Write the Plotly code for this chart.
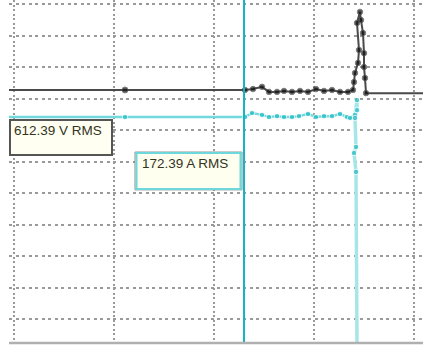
import plotly.graph_objects as go

# Time axis in grid divisions, amplitude in grid divisions
volt_t = [-0.05, 1.11, 2.31, 2.39, 2.48, 2.55, 2.63, 2.70, 2.78, 2.86, 2.94, 3.02,
          3.10, 3.18, 3.26, 3.34, 3.39, 3.40, 3.41, 3.44, 3.45, 3.43, 3.46, 3.47,
          3.49, 3.50, 3.50, 3.51, 3.52, 4.09]
volt_v = [7.27, 7.27, 7.27, 7.30, 7.37, 7.21, 7.21, 7.24, 7.21, 7.24, 7.21, 7.30,
          7.24, 7.27, 7.21, 7.21, 7.27, 7.52, 7.81, 8.13, 8.54, 9.40, 9.75, 9.49,
          9.08, 8.44, 8.00, 7.65, 7.17, 7.17]

curr_t = [-0.05, 1.11, 2.31, 2.38, 2.48, 2.55, 2.63, 2.70, 2.78, 2.85, 2.94, 3.02,
          3.10, 3.18, 3.26, 3.33, 3.36, 3.41, 3.43, 3.43, 3.41, 3.42, 3.40, 3.42, 3.43]
curr_v = [6.41, 6.41, 6.41, 6.54, 6.48, 6.41, 6.44, 6.41, 6.41, 6.44, 6.51, 6.41,
          6.44, 6.44, 6.51, 6.41, 6.38, 6.48, 6.95, 6.63, 6.38, 5.46, 5.27, 4.67, -0.8]

cursor_t = 2.30
volt_label = "612.39 V RMS"
curr_label = "172.39 A RMS"


def marker_sizes(n, big):
    # plain line ends carry no marker, sampled points do
    sizes = [5.5] * n
    sizes[0] = 0
    sizes[1] = big
    sizes[-1] = 0
    return sizes


fig = go.Figure()

# light trailing drop of the current trace
fig.add_trace(go.Scatter(
    x=curr_t[-8:], y=curr_v[-8:], mode="lines",
    line=dict(color="#a6e6e8", width=3.5), hoverinfo="skip", showlegend=False))

fig.add_trace(go.Scatter(
    x=curr_t[:-7], y=curr_v[:-7], mode="lines",
    line=dict(color="#72d9dd", width=2.5), hoverinfo="skip", showlegend=False))

fig.add_trace(go.Scatter(
    x=curr_t, y=curr_v, mode="markers",
    marker=dict(color="#22bcc4", size=marker_sizes(len(curr_t), 5.5)),
    hoverinfo="skip", showlegend=False))

fig.add_trace(go.Scatter(
    x=volt_t, y=volt_v, mode="lines+markers",
    line=dict(color="#4a4a4a", width=2),
    marker=dict(color="#111111", size=marker_sizes(len(volt_t), 6)),
    hoverinfo="skip", showlegend=False))

# measurement cursor
fig.add_shape(type="line", xref="x", yref="paper", x0=cursor_t, x1=cursor_t,
              y0=0, y1=1, line=dict(color="#14b4c4", width=2))

# value boxes
fig.add_shape(type="rect", xref="x", yref="y", x0=-0.04, x1=0.98, y0=5.21, y1=6.32,
              line=dict(color="#555555", width=2), fillcolor="#fffff2")
fig.add_shape(type="rect", xref="x", yref="y", x0=1.21, x1=2.28, y0=4.10, y1=5.30,
              line=dict(color="#8a8a8a", width=1), fillcolor="#fffff0")
fig.add_shape(type="rect", xref="x", yref="y", x0=1.225, x1=2.265, y0=4.13, y1=5.27,
              line=dict(color="#6dd8dc", width=2), fillcolor="rgba(0,0,0,0)")

fig.add_annotation(x=-0.025, y=5.97, xref="x", yref="y", text=volt_label,
                   showarrow=False, xanchor="left", yanchor="middle",
                   font=dict(family="Liberation Sans, Arial", size=13.5, color="#333322"))
fig.add_annotation(x=1.26, y=4.93, xref="x", yref="y", text=curr_label,
                   showarrow=False, xanchor="left", yanchor="middle",
                   font=dict(family="Liberation Sans, Arial", size=13.5, color="#333322"))

fig.update_layout(
    width=423, height=346,
    margin=dict(l=9, r=0, t=0, b=3),
    paper_bgcolor="white", plot_bgcolor="white",
    xaxis=dict(range=[-0.05, 4.09], dtick=1, tick0=0, showticklabels=False,
               ticks="", showgrid=True, gridcolor="#9a9a9a", gridwidth=1.6,
               griddash="2px,2.5px", zeroline=False, showline=False, fixedrange=True),
    yaxis=dict(range=[-0.762, 10.127], dtick=1, tick0=0, showticklabels=False,
               ticks="", showgrid=True, gridcolor="#9a9a9a", gridwidth=1.6,
               griddash="3px,3.5px", zeroline=False,
               showline=False, fixedrange=True),
)

# bottom border of the trace area
fig.add_shape(type="line", xref="paper", yref="paper", x0=0, x1=1, y0=0, y1=0,
              line=dict(color="#b0b0b0", width=2.5))

fig.write_html("out.html")
